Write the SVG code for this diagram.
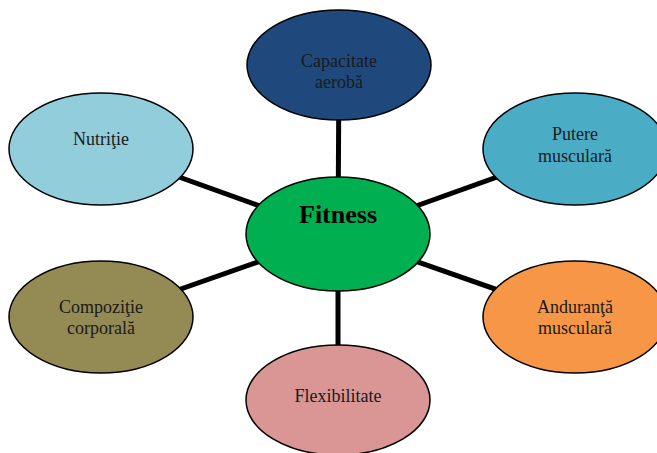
<svg xmlns="http://www.w3.org/2000/svg" width="657" height="453" viewBox="0 0 657 453">
  <style>
    .node ellipse { stroke: #000; stroke-width: 1.5; }
    .label { font-family: "Liberation Serif", "Times New Roman", serif; font-size: 18px; fill: #1a1a1a; text-anchor: middle; }
    .title { font-family: "Liberation Serif", "Times New Roman", serif; font-size: 26px; font-weight: bold; fill: #000; text-anchor: middle; }
    .link { stroke: #000; stroke-width: 5; }
  </style>
  <rect width="657" height="453" fill="#fff"/>

  <!-- spokes from the hub to each outer ellipse -->
  <g id="connectors">
    <line class="link" x1="338" y1="234" x2="339" y2="65"/>
    <line class="link" x1="338" y1="234" x2="575" y2="149"/>
    <line class="link" x1="338" y1="234" x2="575" y2="317"/>
    <line class="link" x1="338" y1="234" x2="338" y2="400"/>
    <line class="link" x1="338" y1="234" x2="101" y2="317"/>
    <line class="link" x1="338" y1="234" x2="101" y2="149"/>
  </g>

  <g id="capacitate" class="node">
    <ellipse cx="339" cy="65" rx="92" ry="55" fill="#1F497D"/>
    <text class="label" x="339" y="67">Capacitate</text>
    <text class="label" x="339" y="88">aerobă</text>
  </g>

  <g id="putere" class="node">
    <ellipse cx="575" cy="149" rx="92" ry="56" fill="#4BACC6"/>
    <text class="label" x="575" y="140">Putere</text>
    <text class="label" x="575" y="162">musculară</text>
  </g>

  <g id="anduranta" class="node">
    <ellipse cx="575" cy="317" rx="92" ry="56" fill="#F79646"/>
    <text class="label" x="575" y="313">Anduranţă</text>
    <text class="label" x="575" y="334">musculară</text>
  </g>

  <g id="flexibilitate" class="node">
    <ellipse cx="338" cy="400" rx="92" ry="55" fill="#D99694"/>
    <text class="label" x="338" y="402">Flexibilitate</text>
  </g>

  <g id="compozitie" class="node">
    <ellipse cx="101" cy="317" rx="92" ry="56" fill="#948A54"/>
    <text class="label" x="101" y="313">Compoziţie</text>
    <text class="label" x="101" y="334">corporală</text>
  </g>

  <g id="nutritie" class="node">
    <ellipse cx="101" cy="149" rx="92" ry="56" fill="#92CDDC"/>
    <text class="label" x="101" y="145">Nutriţie</text>
  </g>

  <g id="fitness" class="node">
    <ellipse cx="338" cy="234" rx="92" ry="57" fill="#00B050"/>
    <text class="title" x="338" y="223">Fitness</text>
  </g>
</svg>
